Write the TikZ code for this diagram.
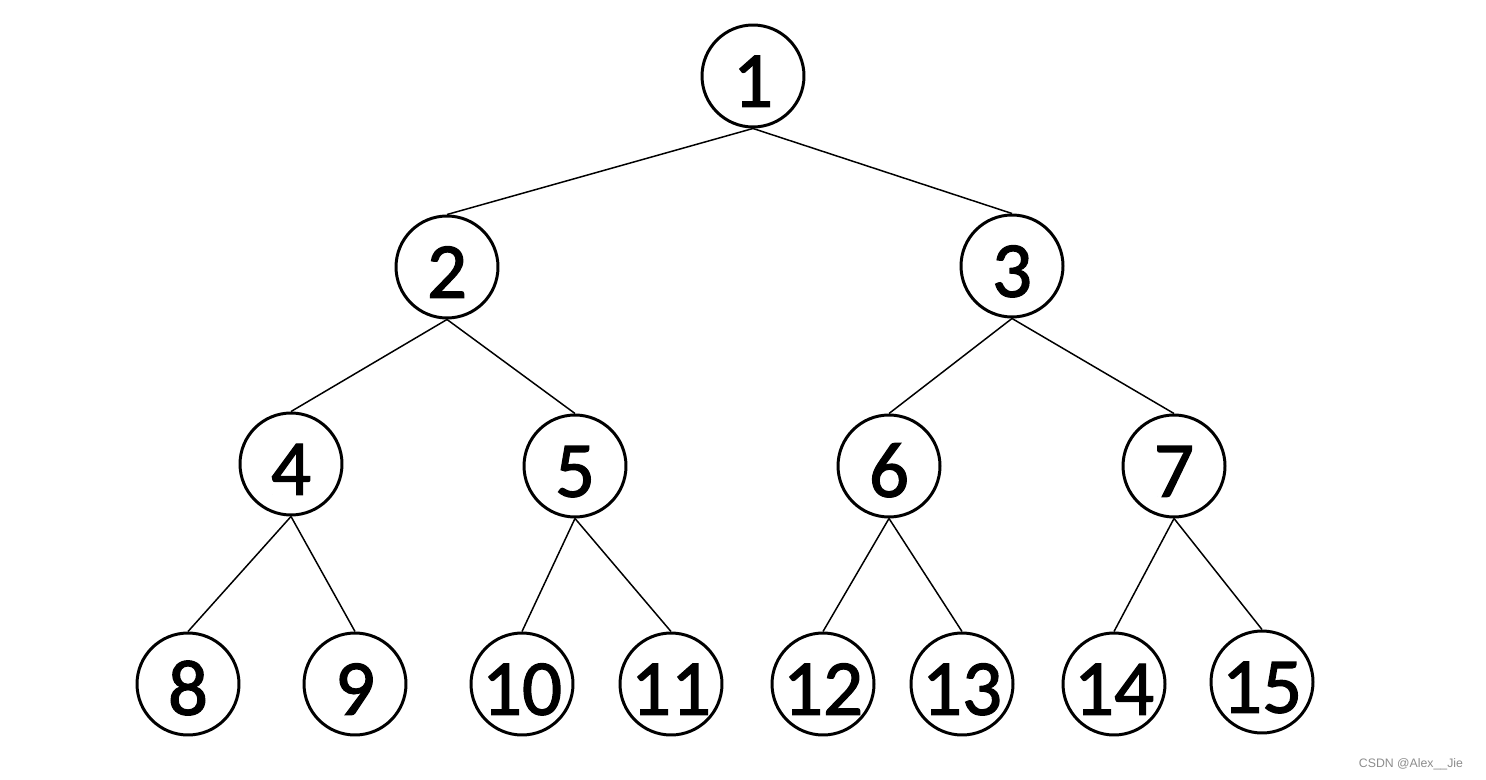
\documentclass[tikz,border=0pt]{standalone}
\usepackage{fontspec}
\setmainfont{Carlito}
\newfontfamily\digitfont[FakeBold=1.6]{Carlito}
\newfontfamily\markfont{Liberation Sans}
\usetikzlibrary{positioning}

\begin{document}
\begin{tikzpicture}[x=0.02cm, y=-0.02cm,
          knot/.style={draw, circle, line width=1.7pt, minimum size=2.04cm, inner sep=0pt,
                       font=\digitfont\fontsize{45}{45}\selectfont, text height=35pt, text depth=0pt},
          branch/.style={line width=0.85pt}]
          \useasboundingbox (0,0) rectangle (1486,780);
          % levels top to bottom
          \node[knot] (n1) at (753,76) {1};
          \node[knot] (n2) at (447,267) {2};
          \node[knot] (n3) at (1012,266) {3};
          \node[knot] (n4) at (291,464) {4};
          \node[knot] (n5) at (575,466) {5};
          \node[knot] (n6) at (889,466) {6};
          \node[knot] (n7) at (1174,466) {7};
          \node[knot] (n8) at (188,684) {8};
          \node[knot] (n9) at (355,684) {9};
          \node[knot] (n10) at (522,684) {10};
          \node[knot] (n11) at (671,684) {11};
          \node[knot] (n12) at (823,684) {12};
          \node[knot] (n13) at (962,684) {13};
          \node[knot] (n14) at (1114,684) {14};
          \node[knot] (n15) at (1262,682) {15};
          \draw[branch] (n1.south)--(n2.north);
          \draw[branch] (n1.south)--(n3.north);
          \draw[branch] (n2.south)--(n4.north);
          \draw[branch] (n2.south)--(n5.north);
          \draw[branch] (n3.south)--(n6.north);
          \draw[branch] (n3.south)--(n7.north);
          \draw[branch] (n4.south)--(n8.north);
          \draw[branch] (n4.south)--(n9.north);
          \draw[branch] (n5.south)--(n10.north);
          \draw[branch] (n5.south)--(n11.north);
          \draw[branch] (n6.south)--(n12.north);
          \draw[branch] (n6.south)--(n13.north);
          \draw[branch] (n7.south)--(n14.north);
          \draw[branch] (n7.south)--(n15.north);
          \node[font=\markfont\fontsize{7}{8}\selectfont, text=black!45] (mark) at (1411,764) {CSDN @Alex\_\_Jie};
        \end{tikzpicture}
\end{document}
